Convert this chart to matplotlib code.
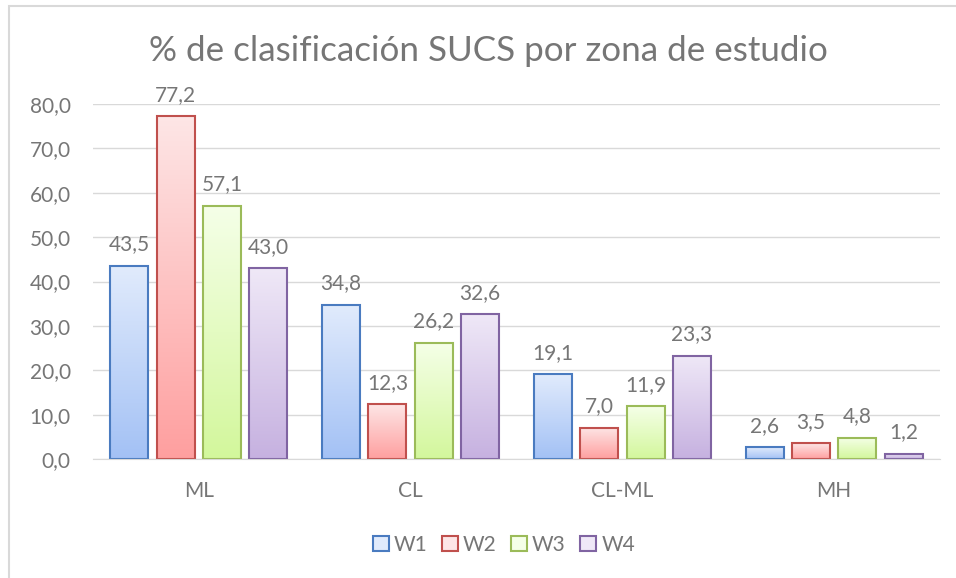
import numpy as np
import matplotlib.pyplot as plt
from matplotlib.colors import LinearSegmentedColormap
from matplotlib.patches import Patch, Rectangle

categories = ["ML", "CL", "CL-ML", "MH"]
series = ["W1", "W2", "W3", "W4"]
w1 = [43.5, 34.8, 19.1, 2.6]
w2 = [77.2, 12.3, 7.0, 3.5]
w3 = [57.1, 26.2, 11.9, 4.8]
w4 = [43.0, 32.6, 23.3, 1.2]
yticks = [0, 10, 20, 30, 40, 50, 60, 70, 80]

# (top colour, bottom colour, edge colour)
styles = [
    ("#e1ebfc", "#a3c1f5", "#4a7bc0"),
    ("#fde6e6", "#ff9f9f", "#c0504d"),
    ("#f5ffe8", "#d3f79c", "#9bbb59"),
    ("#efe8f7", "#c6b1e0", "#8064a2"),
]

text_color = "#767676"
plt.rcParams['font.family'] = ['Lato', 'DejaVu Sans']


def fmt(v):
    return f"{v:.1f}".replace(".", ",")


def main():
    fig = plt.figure(figsize=(9.56, 5.78), dpi=100)
    ax = fig.add_axes([93 / 956, 119 / 578, 847 / 956, 355 / 578])

    # outer chart border
    fig.patches.append(Rectangle((9 / 956, -0.1), 1.2, 1.1 - 6 / 578,
                                 transform=fig.transFigure, fill=False,
                                 edgecolor="#d9d9d9", linewidth=1.5))

    x = np.arange(len(categories))
    step = 0.219
    width = 0.18
    data = [w1, w2, w3, w4]
    grad = np.linspace(0, 1, 256).reshape(-1, 1)
    for i, (vals, (top, bot, edge)) in enumerate(zip(data, styles)):
        cmap = LinearSegmentedColormap.from_list(series[i], [bot, top])
        pos = x + (i - 1.5) * step
        bars = ax.bar(pos, vals, width, facecolor="none", edgecolor=edge,
                      linewidth=1.5, zorder=3)
        for b, v in zip(bars, vals):
            x0 = b.get_x()
            ax.imshow(grad, cmap=cmap, origin="lower", aspect="auto",
                      extent=(x0, x0 + width, 0, v), zorder=2)
            ax.text(b.get_x() + width / 2, v + 2.6, fmt(v), ha="center",
                    va="bottom", fontsize=15, color=text_color, clip_on=False)

    ax.set_xlim(-0.5, 3.5)
    ax.set_ylim(0, 80)
    ax.set_yticks(yticks)
    ax.set_yticklabels([fmt(t) for t in yticks])
    ax.set_xticks(x)
    ax.set_xticklabels(categories)
    ax.tick_params(length=0, labelsize=15, colors=text_color)
    ax.tick_params(axis="y", pad=16)
    ax.tick_params(axis="x", pad=16)
    ax.grid(axis="y", color="#d9d9d9", linewidth=1, zorder=0)
    for s in ["top", "right", "left"]:
        ax.spines[s].set_visible(False)
    ax.spines["bottom"].set_color("#d9d9d9")
    ax.spines["bottom"].set_zorder(4)

    fig.text(488 / 956, 1 - 51 / 578, "% de clasificación SUCS por zona de estudio",
             ha="center", va="center", fontsize=25.2, color=text_color)

    handles = [Patch(facecolor=top, edgecolor=edge, linewidth=1.5)
               for top, bot, edge in styles]
    fig.legend(handles, series, loc="center", bbox_to_anchor=(504 / 956, 1 - 545 / 578),
               ncol=4, frameon=False, fontsize=15, labelcolor=text_color,
               handlelength=0.75, handleheight=0.75, handletextpad=0.25, columnspacing=0.7)

    fig.savefig("out.png", dpi=100)


if __name__ == "__main__":
    main()
